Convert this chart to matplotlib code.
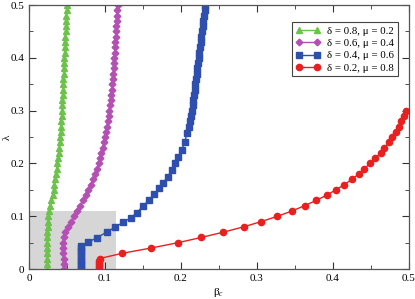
import numpy as np
import matplotlib.pyplot as plt
from matplotlib.patches import Rectangle
from matplotlib.ticker import MultipleLocator

plt.rcParams['font.family'] = ['Liberation Serif', 'DejaVu Serif']
plt.rcParams['mathtext.fontset'] = 'stix'

# delta = 0.8, mu = 0.2
lam_green = [0.00, 0.01, 0.02, 0.03, 0.04, 0.05, 0.06, 0.07, 0.08, 0.09,
             0.10, 0.11, 0.12, 0.13, 0.14, 0.15, 0.16, 0.17, 0.18, 0.19,
             0.20, 0.21, 0.22, 0.23, 0.24, 0.25, 0.26, 0.27, 0.28, 0.29,
             0.30, 0.31, 0.32, 0.33, 0.34, 0.35, 0.36, 0.37, 0.38, 0.39,
             0.40, 0.41, 0.42, 0.43, 0.44, 0.45, 0.46, 0.47, 0.48, 0.49, 0.50]
beta_green = [0.0235, 0.0235, 0.0236, 0.0237, 0.0238, 0.0239, 0.0240, 0.0242, 0.0244, 0.0247,
              0.0252, 0.0265, 0.0280, 0.0295, 0.0310, 0.0322, 0.0335, 0.0346, 0.0356, 0.0364,
              0.0372, 0.0382, 0.0390, 0.0398, 0.0405, 0.0410, 0.0415, 0.0420, 0.0425, 0.0430,
              0.0434, 0.0437, 0.0440, 0.0443, 0.0446, 0.0449, 0.0452, 0.0455, 0.0458, 0.0461,
              0.0465, 0.0468, 0.0471, 0.0474, 0.0478, 0.0481, 0.0484, 0.0488, 0.0491, 0.0495, 0.0499]

# delta = 0.6, mu = 0.4
lam_magenta = lam_green
beta_magenta = [0.0462, 0.0458, 0.0455, 0.0453, 0.0452, 0.0452, 0.0455, 0.0470, 0.0510, 0.0555,
                0.0590, 0.0630, 0.0672, 0.0710, 0.0747, 0.0780, 0.0812, 0.0842, 0.0868, 0.0893,
                0.0915, 0.0935, 0.0953, 0.0970, 0.0985, 0.1000, 0.1013, 0.1025, 0.1036, 0.1047,
                0.1057, 0.1065, 0.1073, 0.1081, 0.1089, 0.1096, 0.1102, 0.1108, 0.1113, 0.1118,
                0.1123, 0.1127, 0.1131, 0.1135, 0.1139, 0.1143, 0.1148, 0.1152, 0.1156, 0.1161, 0.1165]

# delta = 0.4, mu = 0.6
lam_blue = [0.000, 0.005, 0.010, 0.015, 0.020, 0.025, 0.030, 0.035, 0.040, 0.044,
            0.0506, 0.059, 0.070, 0.079, 0.089, 0.097, 0.107, 0.119, 0.131, 0.142,
            0.153, 0.164, 0.175, 0.1875, 0.200, 0.213, 0.225, 0.241, 0.257, 0.270,
            0.28, 0.29, 0.30, 0.31, 0.32, 0.33, 0.34, 0.35, 0.36, 0.37, 0.38, 0.39,
            0.40, 0.41, 0.42, 0.43, 0.44, 0.45, 0.46, 0.47, 0.48, 0.49, 0.50]
beta_blue = [0.069, 0.069, 0.069, 0.069, 0.069, 0.069, 0.069, 0.069, 0.069, 0.069,
             0.077, 0.089, 0.102, 0.113, 0.124, 0.134, 0.142, 0.150, 0.158, 0.165,
             0.171, 0.177, 0.1825, 0.188, 0.192, 0.196, 0.201, 0.205, 0.208, 0.2105,
             0.2125, 0.2135, 0.2145, 0.2154, 0.2163, 0.2172, 0.2181, 0.2190, 0.2199, 0.2208, 0.2217, 0.2226,
             0.2235, 0.2243, 0.2251, 0.2259, 0.2267, 0.2275, 0.2284, 0.2293, 0.2302, 0.2311, 0.2320]

# delta = 0.2, mu = 0.8
lam_red = [0.000, 0.004, 0.008, 0.012, 0.016, 0.020,
           0.03, 0.04, 0.05, 0.06, 0.07, 0.08, 0.09, 0.10, 0.11, 0.12, 0.13, 0.14,
           0.15, 0.16, 0.17, 0.18, 0.19, 0.20, 0.21, 0.22, 0.23, 0.24, 0.25, 0.26,
           0.27, 0.28, 0.29, 0.30]
beta_red = [0.092, 0.092, 0.092, 0.092, 0.092, 0.093,
            0.123, 0.161, 0.196, 0.227, 0.256, 0.2825, 0.3057, 0.327, 0.346, 0.3627, 0.378, 0.3917,
            0.404, 0.415, 0.425, 0.434, 0.441, 0.449, 0.456, 0.463, 0.468, 0.474, 0.478, 0.483,
            0.487, 0.490, 0.494, 0.497]

labels = ['δ = 0.8, μ = 0.2', 'δ = 0.6, μ = 0.4', 'δ = 0.4, μ = 0.6', 'δ = 0.2, μ = 0.8']

fig = plt.figure(figsize=(4.15, 2.99), dpi=100)
ax = fig.add_axes([0.070, 0.100, 0.915, 0.883])

ax.add_patch(Rectangle((0, 0), 0.115, 0.11, facecolor='#d6d6d6', edgecolor='none', zorder=0))

ax.plot(beta_green, lam_green, '-^', color='#6cc24a', ms=4.5, mec='#6cc24a', lw=1, label=labels[0])
ax.plot(beta_magenta, lam_magenta, '-D', color='#b44fb4', ms=3.4, mec='#b44fb4', lw=1, label=labels[1])
ax.plot(beta_blue, lam_blue, '-s', color='#2e4fae', ms=4, mec='#2e4fae', lw=1, label=labels[2])
ax.plot(beta_red, lam_red, '-o', color='#e8201f', ms=4.5, mec='#e8201f', lw=1, label=labels[3])

ax.set_xlim(0, 0.5)
ax.set_ylim(0, 0.5)
ax.xaxis.set_major_locator(MultipleLocator(0.1))
ax.xaxis.set_minor_locator(MultipleLocator(0.05))
ax.yaxis.set_major_locator(MultipleLocator(0.1))
ax.yaxis.set_minor_locator(MultipleLocator(0.05))
ax.xaxis.set_major_formatter(plt.FuncFormatter(lambda v, p: '0' if v == 0 else f'{v:.1f}'))
ax.yaxis.set_major_formatter(plt.FuncFormatter(lambda v, p: '0' if v == 0 else f'{v:.1f}'))
ax.tick_params(which='both', direction='in', top=True, right=True, labelsize=8, color='#333333')
ax.tick_params(which='major', length=5, width=0.8)
ax.tick_params(which='minor', length=3, width=0.6)
for s in ax.spines.values():
    s.set_color('#555555')
    s.set_linewidth(0.9)

ax.set_xlabel('β$_c$', fontsize=8, labelpad=2)
ax.set_ylabel('λ', fontsize=8)
ax.yaxis.set_label_coords(-0.045, 0.5)

leg = ax.legend(loc='upper right', bbox_to_anchor=(0.985, 0.955), fontsize=7.8, numpoints=2,
                handlelength=2.3, fancybox=False, edgecolor='#444444', framealpha=1,
                borderpad=0.35, labelspacing=0.25, handletextpad=0.6)
leg.get_frame().set_linewidth(0.8)

fig.savefig('out.png', dpi=100)
